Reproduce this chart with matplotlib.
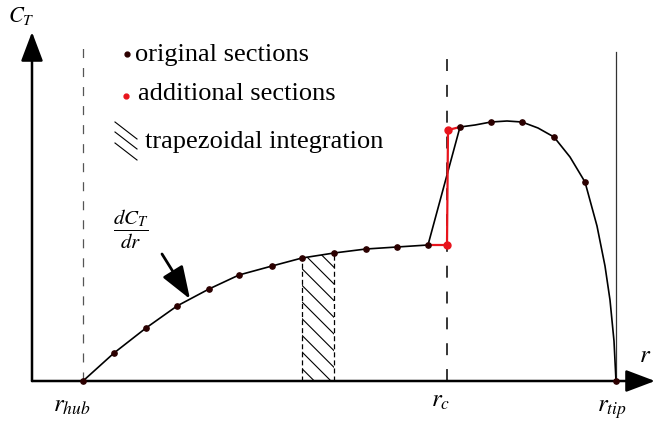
import matplotlib
matplotlib.use("Agg")
import matplotlib.pyplot as plt

plt.rcParams["font.family"] = "serif"
plt.rcParams["font.serif"] = ["Liberation Serif", "DejaVu Serif"]
plt.rcParams["mathtext.fontset"] = "stix"
plt.rcParams["lines.scale_dashes"] = False
plt.rcParams["hatch.linewidth"] = 0.8

# blade sections: radius r and thrust gradient dC_T/dr (drawing units, axis origin at r=32)
r_sec = [83, 114, 146, 177, 209, 239, 272, 302, 334, 366, 397, 428, 460, 491, 522, 554, 585, 616]
ct_sec = [0, 28, 53, 75, 92, 106, 115, 123, 128, 132, 134, 136, 254, 259, 259, 244, 199, 0]

# sections added on both sides of the step at r_c
r_add = [447, 448]
ct_add = [136, 251]

# outboard part of the dC_T/dr curve
r_out = [460, 475, 491, 507, 522, 538, 554, 570, 585, 597, 605, 610, 614, 616]
ct_out = [254, 256, 259, 260, 259, 253, 244, 224, 199, 155, 115, 81, 40, 0]

r_axis0 = 32
r_hub, r_c, r_tip = 83, 447, 616
strip = (302, 334)

fig = plt.figure(figsize=(6.56, 4.26), dpi=100)
ax = fig.add_axes([0, 0, 1, 1])
ax.set_xlim(0, 656)
ax.set_ylim(-45, 381)
ax.axis("off")

# reference lines
ax.plot([r_hub, r_hub], [0, 333], color="#555555", lw=0.9, dashes=(6.5, 7.2))
ax.plot([r_c, r_c], [0, 331], color="black", lw=1.1, dashes=(8.6, 10))
ax.plot([r_tip, r_tip], [0, 329], color="#333333", lw=0.9)

# trapezoidal strip
i0, i1 = r_sec.index(strip[0]), r_sec.index(strip[1])
ax.fill([strip[0], strip[0], strip[1], strip[1]], [0, ct_sec[i0], ct_sec[i1], 0],
        facecolor="none", edgecolor="black", hatch="\\\\", lw=0)
for r, c in ((strip[0], ct_sec[i0]), (strip[1], ct_sec[i1])):
    ax.plot([r, r], [0, c], color="black", lw=0.9, dashes=(3.6, 2.2))

# thrust distribution
inb = r_sec.index(428)
ax.plot(r_sec[:inb + 1], ct_sec[:inb + 1], color="black", lw=1.2)
ax.plot(r_out, ct_out, color="black", lw=1.2)
ax.plot([428, 460], [ct_sec[inb], ct_sec[inb + 1]], color="black", lw=1.2)
ax.plot([428] + r_add + [460], [ct_sec[inb]] + ct_add + [ct_sec[inb + 1]],
        color="#e8141c", lw=1.6, zorder=3)
ax.plot(r_add, ct_add, "o", color="#e8141c", ms=5, zorder=4)
ax.plot(r_sec, ct_sec, "o", color="#2b0000", ms=3.8, zorder=5)

# axes with arrow heads
arrow = dict(arrowstyle="-|>,head_length=1.8,head_width=0.68", mutation_scale=10,
             lw=1.8, color="black", shrinkA=0, shrinkB=0)
ax.annotate("", xy=(r_axis0, 349), xytext=(r_axis0, 0), arrowprops=arrow)
ax.annotate("", xy=(655, 0), xytext=(r_axis0, 0), arrowprops=arrow)

ax.annotate("", xy=(190, 82), xytext=(162, 127),
            arrowprops=dict(arrowstyle="-|>,head_length=2.0,head_width=0.72",
                            mutation_scale=10, lw=2.0, color="black",
                            shrinkA=0, shrinkB=0))
ax.text(131, 152, r"$\dfrac{dC_T}{dr}$", fontsize=15, ha="center", va="center")

# axis labels
ax.text(21, 359, r"$C_T$", fontsize=16, ha="center", va="baseline")
ax.text(645, 19, r"$r$", fontsize=18, ha="center", va="baseline")
ax.text(72, -31, r"$r_{hub}$", fontsize=18, ha="center", va="baseline")
ax.text(441, -26, r"$r_c$", fontsize=18, ha="center", va="baseline")
ax.text(612, -31, r"$r_{tip}$", fontsize=18, ha="center", va="baseline")

# key
ax.plot([127], [327], "o", color="#2b0000", ms=3.5)
ax.text(135, 320, "original sections", fontsize=19, va="baseline")
ax.plot([126], [285], "o", color="#e8141c", ms=3.5)
ax.text(138, 281, "additional sections", fontsize=19, va="baseline")
for y0 in (259, 249, 238):
    ax.plot([115, 137], [y0, y0 - 17], color="black", lw=0.8)
ax.text(145, 233, "trapezoidal integration", fontsize=19, va="baseline")

fig.savefig("out.png", dpi=100)
